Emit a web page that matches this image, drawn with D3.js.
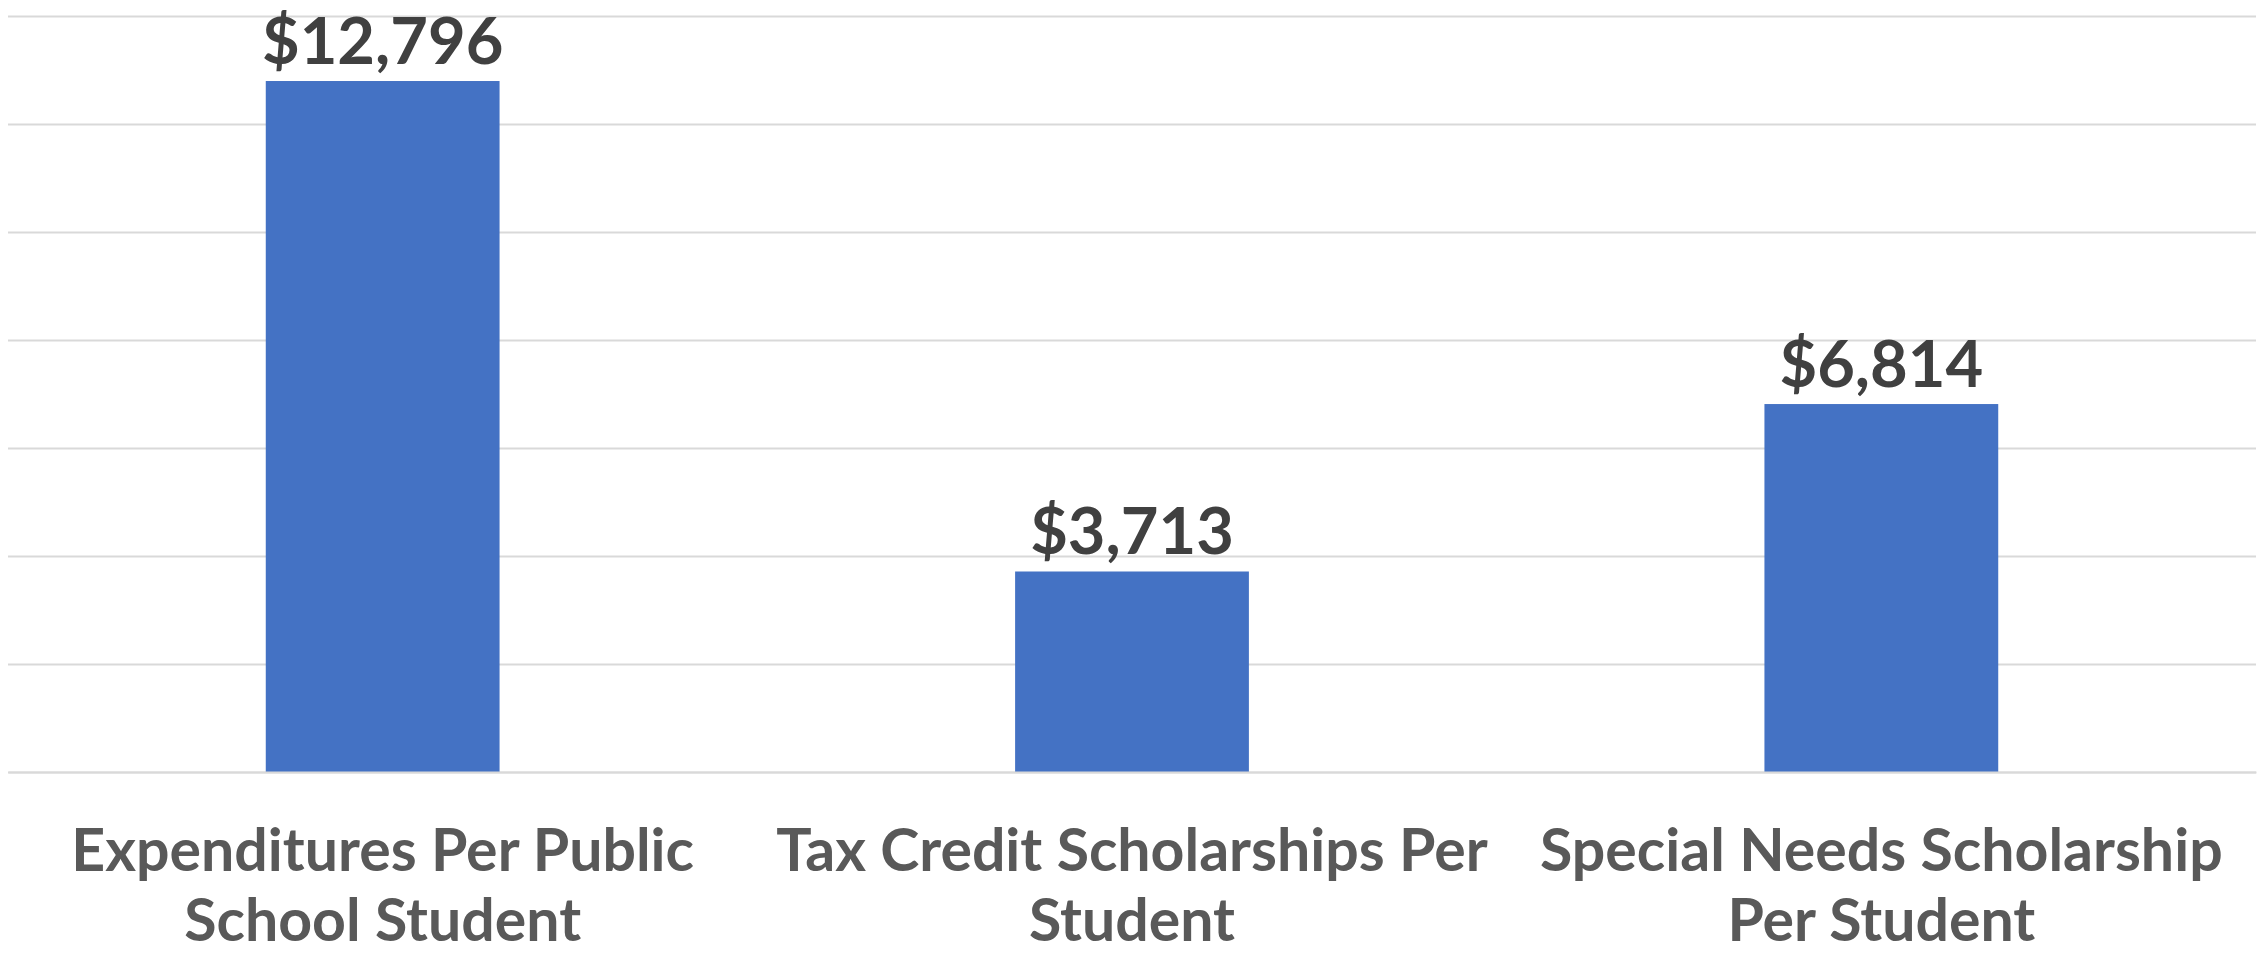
<!DOCTYPE html>
<html>
<head>
<meta charset="utf-8">
<script src="https://cdn.jsdelivr.net/npm/d3@7"></script>
<style>
  body { margin: 0; background: #fff; }
  svg { display: block; }
  .grid line { stroke: #d9d9d9; stroke-width: 2; }
  .grid .domain { display: none; }
  .grid text { display: none; }
  .xaxis .domain { stroke: #d9d9d9; stroke-width: 2; }
  .xaxis text { font-family: Lato, "Open Sans", sans-serif; font-weight: bold; fill: #595959; }
</style>
</head>
<body>
<div id="chart"></div>
<script>
var categories = ["Expenditures Per Public School Student",
                  "Tax Credit Scholarships Per Student",
                  "Special Needs Scholarship Per Student"];
var categoryLines = [["Expenditures Per Public", "School Student"],
                     ["Tax Credit Scholarships Per", "Student"],
                     ["Special Needs Scholarship", "Per Student"]];
var values = [12796, 3713, 6814];
var yTicks = [0, 2000, 4000, 6000, 8000, 10000, 12000, 14000];

var W = 2267, H = 955;
var margin = {top: 16, right: 11, bottom: 183, left: 8};
var width = W - margin.left - margin.right,
    height = H - margin.top - margin.bottom;

var svg = d3.select("#chart").append("svg")
    .attr("width", W)
    .attr("height", H);

var g = svg.append("g")
    .attr("transform", "translate(" + margin.left + "," + margin.top + ")");

// excel style: bar centred in each category slot, gap width ~220%
var x = d3.scaleBand()
    .domain(categories)
    .range([0, width])
    .paddingInner(0.688)
    .paddingOuter(0.344);

var y = d3.scaleLinear()
    .domain([0, 14000])
    .range([height, 0]);

g.append("g")
    .attr("class", "grid")
    .call(d3.axisLeft(y).tickValues(yTicks).tickSize(-width).tickFormat(""));

g.selectAll(".bar")
    .data(values)
    .enter().append("rect")
    .attr("class", "bar")
    .attr("x", function(d, i) { return x(categories[i]); })
    .attr("y", function(d) { return y(d); })
    .attr("width", x.bandwidth())
    .attr("height", function(d) { return height - y(d); })
    .style("fill", "#4472c4");

var fmt = d3.format("$,");
g.selectAll(".label")
    .data(values)
    .enter().append("text")
    .attr("class", "label")
    .attr("x", function(d, i) { return x(categories[i]) + x.bandwidth() / 2; })
    .attr("y", function(d) { return y(d) - 17; })
    .attr("text-anchor", "middle")
    .style("font-family", "Lato, 'Open Sans', sans-serif")
    .style("font-weight", "bold")
    .style("font-size", "65px")
    .style("fill", "#404040")
    .text(function(d) { return fmt(d); });

var xAxis = g.append("g")
    .attr("class", "xaxis")
    .attr("transform", "translate(0," + height + ")")
    .call(d3.axisBottom(x).tickSize(0).tickSizeOuter(0));

xAxis.selectAll(".tick text").each(function(d, i) {
    var t = d3.select(this).text(null)
        .attr("y", 0).attr("dy", null)
        .style("font-size", "59px");
    categoryLines[i].forEach(function(line, j) {
        t.append("tspan")
            .attr("x", 0)
            .attr("y", 99 + j * 70)
            .text(line);
    });
});
</script>
</body>
</html>
